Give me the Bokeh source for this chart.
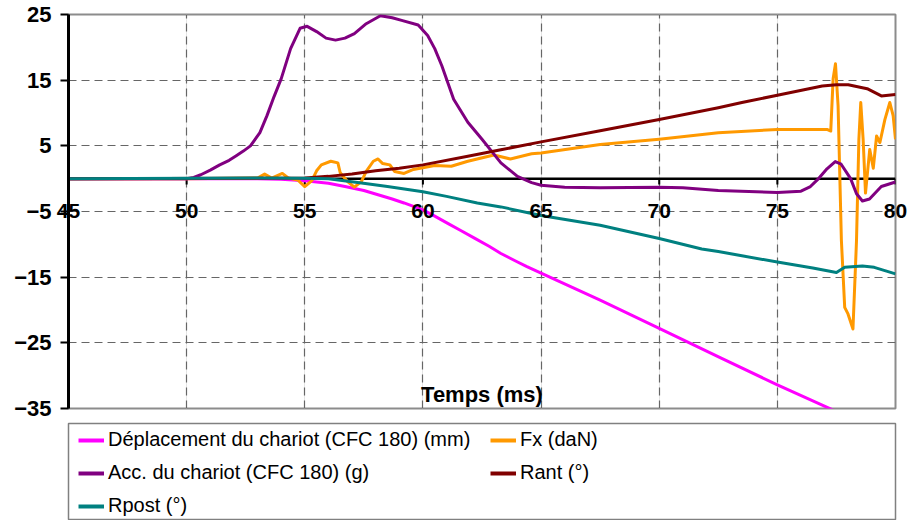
from bokeh.plotting import figure
from bokeh.models import (Range1d, Span, Label, Legend, LegendItem,
                          FixedTicker, Grid, LinearAxis)
from bokeh.layouts import column
from bokeh.embed import file_html
from bokeh.resources import INLINE

# ---------------- data ----------------
t_dep = [45, 50, 53, 54, 55, 56, 56.7, 57.5, 58.1, 58.7, 59.2, 60, 60.5, 61.05, 61.6,
         62.2, 62.8, 63.3, 63.9, 64.4, 65, 67.5, 70, 72.6, 75, 77.4, 80]
v_dep = [0, 0, 0, -0.1, -0.3, -0.7, -1.2, -1.8, -2.45, -3.1, -3.7, -4.75, -5.7, -6.8, -7.9,
         -9.1, -10.3, -11.4, -12.5, -13.4, -14.4, -18.5, -22.8, -27.3, -31.4, -35.3, -39.8]

t_fx = [45, 50, 53, 53.3, 53.6, 54.05, 54.3, 54.7, 55, 55.3, 55.5, 55.7, 56.1, 56.4, 56.5,
        56.8, 57.1, 57.4, 57.6, 57.9, 58.1, 58.3, 58.6, 58.8, 59.2, 59.6, 60.5, 61.2, 61.9,
        63.0, 63.7, 64.6, 65, 67.5, 70, 72.5, 75, 77.1, 77.26, 77.36, 77.46, 77.57, 77.71,
        77.85, 77.99, 78.2, 78.35, 78.45, 78.53, 78.63, 78.73, 78.91, 79.06, 79.2, 79.34,
        79.55, 79.76, 79.9, 80]
v_fx = [0, 0, 0.1, 0.7, 0.1, 0.8, 0.1, -0.2, -1.2, -0.3, 1.2, 2.1, 2.65, 2.4, 0.9,
        -0.4, -1.3, -0.4, 1.1, 2.65, 3.0, 2.3, 2.1, 1.1, 0.8, 1.4, 2.0, 1.9, 2.65,
        3.6, 3.0, 3.8, 3.9, 5.2, 6.0, 7.0, 7.5, 7.5, 7.25, 15.2, 17.5, 11.1, -9.4,
        -19.6, -20.6, -22.9, -9.4, 6.0, 11.6, 6.0, -2.2, 4.45, 1.6, 6.5, 5.5,
        9.0, 11.6, 9.6, 6.0]

t_acc = [45, 50, 50.3, 50.6, 51.0, 51.4, 51.8, 52.1, 52.4, 52.7, 53.1, 53.4, 53.7, 54.0,
         54.4, 54.8, 55.1, 55.5, 55.9, 56.3, 56.7, 57.1, 57.6, 58.2, 58.7, 59.1, 59.8,
         60.2, 60.5, 60.8, 61.3, 61.9, 62.5, 63.3, 64.0, 64.6, 65, 66, 67.5, 70, 71, 72.5,
         75, 76, 76.4, 76.7, 77.1, 77.45, 77.7, 78.1, 78.35, 78.6, 78.9, 79.4, 80]
v_acc = [0, 0, 0.2, 0.6, 1.3, 2.1, 2.8, 3.5, 4.2, 5.0, 7.0, 9.6, 12.5, 15.2,
         19.8, 22.9, 23.2, 22.4, 21.4, 21.1, 21.4, 22.1, 23.6, 24.8, 24.5, 24.1, 23.4,
         21.8, 19.8, 17.2, 12.1, 8.6, 6.0, 2.4, 0.35, -0.6, -1.0, -1.3, -1.4, -1.3, -1.4,
         -1.8, -2.1, -1.9, -1.2, -0.15, 1.5, 2.6, 2.2, 0, -2.3, -3.4, -3.1, -1.2, -0.5]

t_rant = [45, 55, 56, 57, 58, 59, 60, 61.9, 63.3, 65, 67.5, 70, 72.5, 73.5, 75, 76.9,
          77.5, 78, 78.8, 79.4, 80]
v_rant = [0, 0.1, 0.35, 0.7, 1.2, 1.6, 2.1, 3.4, 4.4, 5.6, 7.3, 9.0, 10.8, 11.6, 12.7, 14.1,
          14.3, 14.3, 13.7, 12.6, 12.8]

t_rpost = [45, 53, 55, 56, 57.4, 58.5, 60, 61, 62.3, 63.3, 65, 67.5, 70, 71.8, 72.5, 75,
           76.5, 77.5, 77.85, 78.6, 79.1, 80]
v_rpost = [0, 0.1, 0.05, 0, -0.65, -1.2, -2.0, -2.7, -3.7, -4.3, -5.6, -7.1, -9.1, -10.7,
           -11.1, -12.7, -13.6, -14.3, -13.5, -13.3, -13.5, -14.5]

series_names = ["Déplacement du chariot (CFC 180) (mm)", "Fx (daN)",
                "Acc. du chariot (CFC 180) (g)", "Rant (°)", "Rpost (°)"]
series_t = [t_dep, t_fx, t_acc, t_rant, t_rpost]
series_v = [v_dep, v_fx, v_acc, v_rant, v_rpost]
series_colors = ["#FF00FF", "#FF9900", "#800080", "#800000", "#008080"]

x_ticks = [45, 50, 55, 60, 65, 70, 75, 80]
x_tick_labels = ["45", "50", "55", "60", "65", "70", "75", "80"]
x_grid = [50, 55, 60, 65, 70, 75, 80]
y_ticks = [25, 15, 5, -5, -15, -25, -35]
y_grid = [15, 5, -5, -15, -25]
x_title = "Temps (ms)"

FONT = "Liberation Sans"

# ---------------- main chart ----------------
p = figure(width=920, height=422, x_range=Range1d(45, 80), y_range=Range1d(-35, 25),
           output_backend="svg", toolbar_location=None, x_axis_location=None,
           min_border_left=68, min_border_right=25, min_border_top=14, min_border_bottom=14)
p.background_fill_color = "white"
p.border_fill_color = "white"
p.outline_line_color = "#8c8c8c"
p.outline_line_width = 2

p.ygrid.ticker = FixedTicker(ticks=y_grid)
p.ygrid.grid_line_color = "#666666"
p.ygrid.grid_line_dash = "8 5"
p.ygrid.grid_line_width = 1.2

xg = Grid(dimension=0, ticker=FixedTicker(ticks=x_grid), grid_line_color="#666666",
          grid_line_dash="8 5", grid_line_width=1.2)
p.add_layout(xg)

yax = p.yaxis[0]
yax.ticker = FixedTicker(ticks=y_ticks)
yax.axis_line_color = "black"
yax.axis_line_width = 3
yax.major_tick_line_color = "black"
yax.major_tick_line_width = 2
yax.major_tick_out = 8
yax.major_tick_in = 0
yax.minor_tick_line_color = None
yax.major_label_standoff = 9
yax.major_label_text_font = FONT
yax.major_label_text_font_style = "bold"
yax.major_label_text_font_size = "22px"
yax.major_label_text_color = "black"

# x tick labels: an axis below the frame whose labels are lifted to the -5 level
xax = LinearAxis(ticker=FixedTicker(ticks=x_ticks),
                 major_label_overrides=dict(zip(x_ticks, x_tick_labels)),
                 axis_line_color=None, major_tick_line_color=None,
                 minor_tick_line_color=None, major_tick_out=0, major_tick_in=0,
                 major_label_standoff=-205, major_label_text_font=FONT,
                 major_label_text_font_style="bold", major_label_text_font_size="21px",
                 major_label_text_color="black")
p.add_layout(xax, "below")

zero = Span(location=0, dimension="width", line_color="black", line_width=2.5, level="underlay")
p.add_layout(zero)

n = len(x_ticks)
p.segment(x0=x_ticks, y0=[0] * n, x1=x_ticks, y1=[-0.9] * n, line_color="black", line_width=2)

p.add_layout(Label(x=62.5, y=-32.8, text=x_title, text_align="center",
                   text_baseline="alphabetic", text_font=FONT, text_font_style="bold",
                   text_font_size="22px", text_color="black"))

for tt, vv, col in zip(series_t, series_v, series_colors):
    p.line(tt, vv, line_color=col, line_width=3, line_join="round")

# ---------------- legend box ----------------
p2 = figure(width=920, height=98, x_range=Range1d(0, 1), y_range=Range1d(0, 1),
            output_backend="svg", toolbar_location=None,
            x_axis_location=None, y_axis_location=None,
            min_border_left=67, min_border_right=13, min_border_top=1, min_border_bottom=0)
p2.outline_line_color = "#808080"
p2.outline_line_width = 1.5
p2.background_fill_color = "white"
p2.border_fill_color = "white"
p2.xgrid.visible = False
p2.ygrid.visible = False

nan_pt = [float("nan")]
items = []
for name, col in zip(series_names, series_colors):
    r = p2.line(x=nan_pt, y=nan_pt, line_color=col, line_width=4)
    items.append(LegendItem(label=name, renderers=[r]))

leg = Legend(items=items, orientation="horizontal", ncols=2, location=(10, 3),
             glyph_width=26, glyph_height=22, label_height=22, label_width=372,
             label_standoff=4, spacing=10, padding=0, margin=0, border_line_alpha=0,
             background_fill_alpha=0, label_text_font=FONT, label_text_font_size="20px",
             label_text_color="black")
p2.add_layout(leg)

layout = column(p, p2, spacing=0)
open("out.html", "w").write(file_html(layout, INLINE))
